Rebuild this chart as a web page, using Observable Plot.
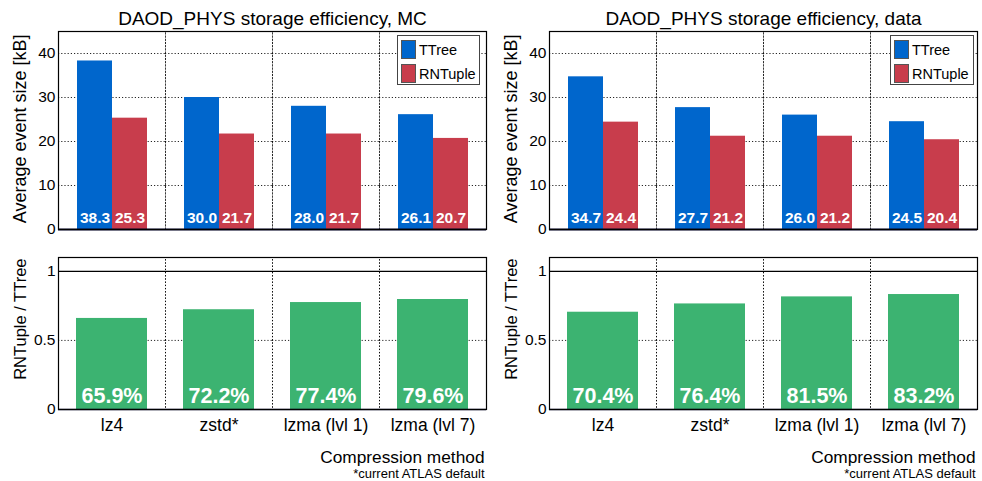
<!DOCTYPE html>
<html>
<head>
<meta charset="utf-8">
<script src="https://cdn.jsdelivr.net/npm/d3@7"></script>
<script src="https://cdn.jsdelivr.net/npm/@observablehq/plot@0.6"></script>
<style>
  html, body { margin: 0; padding: 0; background: #fff; }
  #root { position: relative; width: 982px; height: 481px; font-family: "Liberation Sans", Arial, sans-serif; }
  #root svg, #root svg text { font-family: "Liberation Sans", Arial, sans-serif !important; }
  .panel { position: absolute; }
  .legend { position: absolute; background: #fff; border: 1px solid #444; box-sizing: border-box; font-size: 14.5px; color: #000; }
  .legend .row { position: absolute; left: 3px; display: flex; align-items: center; }
  .legend .sw { width: 15px; height: 19px; box-sizing: border-box; border: 1px solid #555; margin-right: 3px; }
</style>
</head>
<body>
<div id="root"></div>
<script>
// ---- data ----
const methods = ["lz4", "zstd*", "lzma (lvl 1)", "lzma (lvl 7)"];
const seriesNames = ["TTree", "RNTuple"];
const mcTTree = [38.3, 30.0, 28.0, 26.1];
const mcRNTuple = [25.3, 21.7, 21.7, 20.7];
const dataTTree = [34.7, 27.7, 26.0, 24.5];
const dataRNTuple = [24.4, 21.2, 21.2, 20.4];
const mcRatio = [0.659, 0.722, 0.774, 0.796];
const dataRatio = [0.704, 0.764, 0.815, 0.832];
const titles = ["DAOD_PHYS storage efficiency, MC", "DAOD_PHYS storage efficiency, data"];
const topYTicks = [0, 10, 20, 30, 40];
const bottomYTicks = [0, 0.5, 1];

const colors = {TTree: "#0066CC", RNTuple: "#C83D4C"};
const green = "#3CB371";
const FONT = "'Liberation Sans', Arial, sans-serif";
const root = document.getElementById("root");

function topPanel(title, tt, rn) {
  const rows = [];
  methods.forEach((m, i) => {
    rows.push({method: m, series: "TTree", value: tt[i]});
    rows.push({method: m, series: "RNTuple", value: rn[i]});
  });
  return Plot.plot({
    width: 491, height: 240,
    marginLeft: 57, marginRight: 4, marginTop: 31, marginBottom: 11,
    style: {fontFamily: FONT, background: "white", color: "#000"},
    fx: {domain: methods, padding: 0, axis: null},
    x: {domain: seriesNames, paddingInner: 0, paddingOuter: 0.49, axis: null},
    y: {domain: [0, 45]},
    color: {domain: seriesNames, range: seriesNames.map(s => colors[s])},
    marks: [
      Plot.gridY(topYTicks.slice(1), {stroke: "#000", strokeOpacity: 0.85, strokeDasharray: "1.2,2"}),
      Plot.frame({stroke: "#000", strokeOpacity: 0.85, strokeDasharray: "1.2,2"}),
      Plot.barY(rows, {fx: "method", x: "series", y: "value", fill: "series"}),
      Plot.text(rows, {fx: "method", x: "series", y: () => 0, dy: -11, text: d => d.value.toFixed(1),
        fill: "white", fontWeight: "bold", fontSize: 15.5, lineAnchor: "middle"}),
      Plot.ruleY([0], {stroke: "#0a0a30", strokeWidth: 2}),
      Plot.frame({facet: "super", stroke: "#000", strokeWidth: 1.2}),
      Plot.axisY({ticks: topYTicks, tickSize: 0, tickPadding: 3, fontSize: 15.5, label: null}),
      Plot.text([title], {facet: "super", frameAnchor: "top", dy: -7, lineAnchor: "bottom", fontSize: 19}),
      Plot.text(["Average event size [kB]"], {facet: "super", frameAnchor: "top-left", dx: -38, dy: 3,
        rotate: -90, textAnchor: "end", lineAnchor: "middle", fontSize: 18})
    ]
  });
}

function bottomPanel(ratio) {
  const rows = methods.map((m, i) => ({method: m, key: "ratio", value: ratio[i]}));
  return Plot.plot({
    width: 491, height: 241,
    marginLeft: 57, marginRight: 4, marginTop: 17, marginBottom: 72,
    style: {fontFamily: FONT, background: "white", color: "#000"},
    fx: {domain: methods, padding: 0},
    x: {domain: ["ratio"], paddingInner: 0, paddingOuter: 0.25, axis: null},
    y: {domain: [0, 1.1]},
    marks: [
      Plot.gridY([0.5], {stroke: "#000", strokeOpacity: 0.85, strokeDasharray: "1.2,2"}),
      Plot.frame({stroke: "#000", strokeOpacity: 0.85, strokeDasharray: "1.2,2"}),
      Plot.ruleY([1], {stroke: "#000", strokeWidth: 1.2}),
      Plot.barY(rows, {fx: "method", x: "key", y: "value", fill: green}),
      Plot.text(rows, {fx: "method", x: "key", y: () => 0, dy: -13, text: d => (d.value * 100).toFixed(1) + "%",
        fill: "white", fontWeight: "bold", fontSize: 21.5, lineAnchor: "middle"}),
      Plot.ruleY([0], {stroke: "#0a0a30", strokeWidth: 1.5}),
      Plot.frame({facet: "super", stroke: "#000", strokeWidth: 1.2}),
      Plot.axisY({ticks: bottomYTicks, tickFormat: d => String(d), tickSize: 0, tickPadding: 3, fontSize: 15.5, label: null}),
      Plot.axisFx({anchor: "bottom", tickSize: 0, tickPadding: 9, fontSize: 17.5, label: null}),
      Plot.text(["RNTuple / TTree"], {facet: "super", frameAnchor: "top-left", dx: -38, dy: 1,
        rotate: -90, textAnchor: "end", lineAnchor: "middle", fontSize: 16.5}),
      Plot.text(["Compression method"], {facet: "super", frameAnchor: "bottom-right", dx: -2, dy: 53,
        textAnchor: "end", lineAnchor: "bottom", fontSize: 17.3}),
      Plot.text(["*current ATLAS default"], {facet: "super", frameAnchor: "bottom-right", dx: -2, dy: 68,
        textAnchor: "end", lineAnchor: "bottom", fontSize: 13})
    ]
  });
}

function place(node, left, top) {
  node.classList.add("panel");
  node.style.left = left + "px";
  node.style.top = top + "px";
  root.appendChild(node);
}

function legend(left, top, w, h) {
  const div = document.createElement("div");
  div.className = "legend";
  div.style.left = left + "px"; div.style.top = top + "px";
  div.style.width = w + "px"; div.style.height = h + "px";
  seriesNames.forEach((s, i) => {
    const row = document.createElement("div");
    row.className = "row";
    row.style.top = (4 + i * 24) + "px";
    const sw = document.createElement("div");
    sw.className = "sw";
    sw.style.background = colors[s];
    const t = document.createElement("span");
    t.textContent = s;
    row.appendChild(sw); row.appendChild(t);
    div.appendChild(row);
  });
  root.appendChild(div);
}

place(topPanel(titles[0], mcTTree, mcRNTuple), 0, 0);
place(topPanel(titles[1], dataTTree, dataRNTuple), 491, 0);
place(bottomPanel(mcRatio), 0, 240);
place(bottomPanel(dataRatio), 491, 240);
legend(397, 35, 83, 50);
legend(890, 35, 84, 50);
</script>
</body>
</html>
